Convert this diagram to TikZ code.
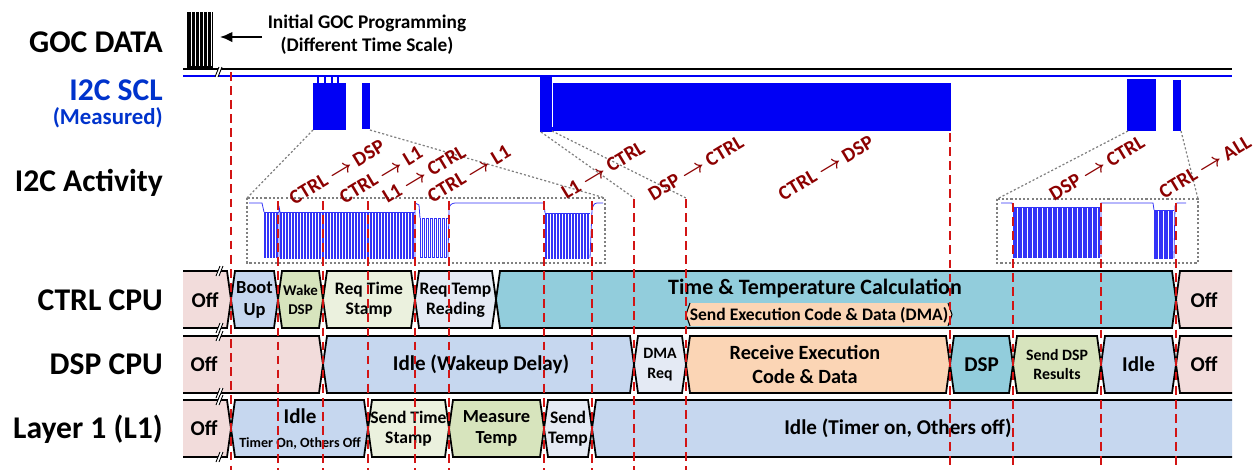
\documentclass[tikz,border=0pt]{standalone}
\usepackage{fontspec}
\setmainfont{Carlito}
\usepackage{tikz}
\usetikzlibrary{arrows.meta}

\definecolor{offpink}{RGB}{242,220,219}
\definecolor{idleblue}{RGB}{198,215,239}
\definecolor{wakegreen}{RGB}{215,228,189}
\definecolor{stampgreen}{RGB}{235,241,222}
\definecolor{reqgray}{RGB}{228,234,244}
\definecolor{calcteal}{RGB}{146,205,220}
\definecolor{codepeach}{RGB}{251,213,181}
\definecolor{msgred}{RGB}{140,0,0}
\definecolor{syncred}{RGB}{210,20,20}
\definecolor{sclblue}{RGB}{0,0,245}
\definecolor{labelblue}{RGB}{0,51,204}

\newcommand{\sendto}{{\boldmath$\rightarrow$}}
% axis break "//" at (x,y)
\newcommand{\axisbreak}[2]{%
  \fill[white] (#1-4,#2+5) -- (#1,#2-5) -- (#1+3,#2-5) -- (#1-1,#2+5) -- cycle;
  \draw[line width=0.5pt] (#1-4,#2+5) -- (#1,#2-5) (#1-1,#2+5) -- (#1+3,#2-5);}
% square wave: first x, second x, last x, high y, low y
\newcommand{\sqwave}[5]{%
  \draw[zoomtrace] (#1,#4) foreach \x in {#1,#2,...,#3}
    { -- (\x,#5) -- ({\x+(#2-#1)/2},#5) -- ({\x+(#2-#1)/2},#4) -- ({\x+#2-#1},#4) };}

\begin{document}
\begin{tikzpicture}[x=0.02cm, y=-0.02cm, font=\bfseries]
        % Setup the styles
        \tikzset{rowtitle/.style={anchor=east,
                                  font=\fontsize{18}{21}\selectfont\bfseries}}
        \tikzset{statebox/.style={draw=black, line width=1pt}}
        \tikzset{statetext/.style={align=center,
                                   font=\fontsize{10}{11.5}\selectfont\bfseries}}
        \tikzset{bigtext/.style={align=center,
                                 font=\fontsize{12}{13.5}\selectfont\bfseries}}
        \tikzset{msglabel/.style={text=msgred, rotate=31, inner sep=0pt,
                                  font=\fontsize{11.5}{13}\selectfont\bfseries}}
        \tikzset{syncline/.style={draw=syncred, line width=1.1pt,
                                  dash pattern=on 5pt off 3pt}}
        \tikzset{zoomline/.style={draw=gray, line width=0.7pt,
                                  dash pattern=on 1.2pt off 1.2pt}}
        \tikzset{zoomtrace/.style={draw=sclblue!80!white, line width=0.45pt}}

        \useasboundingbox (0,0) rectangle (1258,471);

        % Row titles
        \node[rowtitle] at (169,42) (gocdata) {GOC DATA};
        \node[rowtitle, text=labelblue] at (169,90) (i2cscl) {I2C SCL};
        \node[rowtitle, text=labelblue, font=\fontsize{13}{15}\selectfont\bfseries]
              at (169,118) (measured) {(Measured)};
        \node[rowtitle] at (169,183) (i2cact) {I2C Activity};
        \node[rowtitle] at (169,300) (ctrlcpu) {CTRL CPU};
        \node[rowtitle] at (169,364) (dspcpu) {DSP CPU};
        \node[rowtitle] at (169,429) (layerone) {Layer 1 (L1)};

        % GOC data burst and traces
        \fill[black] (187,12) rectangle (213,69);
        \foreach \x in {191,195,199,203,207,211}
              \draw[white, line width=0.35pt] (\x,12) -- (\x,66);
        \draw[line width=1.1pt] (183,69) -- (1232,69);
        \draw[sclblue, line width=0.8pt] (183,76) -- (1232,76);
        \fill[sclblue] (313,83) rectangle (346,130);
        \foreach \x in {318,325,332,338}
              \draw[sclblue, line width=1.2pt] (\x,76) -- (\x,84);
        \fill[sclblue] (362,83) rectangle (370,129);
        \fill[sclblue] (540,76) rectangle (552,132);
        \fill[sclblue] (552,83) rectangle (951,131);
        \draw[white, line width=0.4pt] (552,80) -- (552,127);
        \fill[sclblue] (1127,79) rectangle (1156,131);
        \fill[sclblue] (1173,80) rectangle (1181,131);
        \axisbreak{219}{72}

        % Annotation of the GOC burst
        \node[align=center, font=\fontsize{11}{13}\selectfont\bfseries, inner sep=3pt]
              at (367,35) (initprog) {Initial GOC Programming\\(Different Time Scale)};
        \coordinate (gocburst) at (220,37);
        \draw[line width=1.1pt, -{Latex[length=7pt, width=6pt]}]
              (initprog.west |- gocburst) -- (gocburst);

        % Zoom frames
        \coordinate (burstAl) at (313,130);
        \coordinate (burstAr) at (370,130);
        \coordinate (zoomLnw) at (247,198);
        \coordinate (zoomLne) at (605,198);
        \coordinate (zoomLse) at (605,263);
        \coordinate (burstBl) at (541,132);
        \coordinate (burstBr) at (552,131);
        \coordinate (dmatop) at (634,198);
        \coordinate (codetop) at (686,198);
        \coordinate (burstCl) at (1128,131);
        \coordinate (burstCr) at (1181,131);
        \coordinate (zoomRnw) at (997,199);
        \coordinate (zoomRne) at (1198,199);
        \coordinate (zoomRse) at (1198,263);
        \draw[zoomline] (burstAl) -- (zoomLnw);
        \draw[zoomline] (burstAr) -- (zoomLne);
        \draw[zoomline] (zoomLnw) rectangle (zoomLse);
        \draw[zoomline] (burstBl) -- (dmatop);
        \draw[zoomline] (burstBr) -- (codetop);
        \draw[zoomline] (burstCl) -- (zoomRnw);
        \draw[zoomline] (burstCr) -- (zoomRne);
        \draw[zoomline] (zoomRnw) rectangle (zoomRse);

        % Zoomed waveforms
        \draw[zoomtrace] (249,203) -- (262,203) -- (264,212);
        \sqwave{264}{267}{276}{212}{257}
        \draw[zoomtrace] (279,257) -- (279,206) -- (280,212);
        \sqwave{280}{283}{412}{212}{258}
        \draw[zoomtrace] (415,258) -- (415,203) -- (419,205) -- (420,218);
        \sqwave{420}{424}{444}{218}{257}
        \draw[zoomtrace] (448,257) -- (449,209) to[out=90, in=180] (455,203)
              -- (544,203) -- (545,213);
        \sqwave{545}{548}{587}{213}{258}
        \draw[zoomtrace] (590,258) -- (592,210) to[out=80, in=180] (597,203) -- (603,203);
        \draw[zoomtrace] (1001,203) -- (1012,203) -- (1013,207);
        \sqwave{1013}{1015.5}{1098.5}{207}{257}
        \draw[zoomtrace] (1101,257) -- (1101,203) -- (1153,203) -- (1154,210);
        \sqwave{1154}{1156.5}{1171.5}{210}{258}
        \draw[zoomtrace] (1174,258) -- (1175,206) -- (1177,203) -- (1186,203);

        % I2C activity labels
        \node[msglabel] at (337,172) (msgA) {CTRL \sendto{} DSP};
        \node[msglabel] at (381,175) (msgB) {CTRL \sendto{} L1};
        \node[msglabel] at (424,174) (msgC) {L1 \sendto{} CTRL};
        \node[msglabel] at (469,174) (msgD) {CTRL \sendto{} L1};
        \node[msglabel] at (603,170) (msgE) {L1 \sendto{} CTRL};
        \node[msglabel] at (696,168) (msgF) {DSP \sendto{} CTRL};
        \node[msglabel] at (826,168) (msgG) {CTRL \sendto{} DSP};
        \node[msglabel] at (1097,168) (msgH) {DSP \sendto{} CTRL};
        \node[msglabel] at (1205,167) (msgI) {CTRL \sendto{} ALL};

        % CTRL CPU row
        \fill[offpink] (183,271) -- (227,271) -- (231,299.5) -- (227,328) -- (183,328) -- cycle;
        \draw[statebox] (183,271) -- (227,271) -- (231,299.5) -- (227,328) -- (183,328);
        \foreach \xa/\xb/\col in {231/278/idleblue, 278/323/wakegreen, 323/415/stampgreen,
                                  415/496/reqgray, 496/1176/calcteal}
              \filldraw[statebox, fill=\col] (\xa,299.5) -- (\xa+4,271) -- (\xb-4,271)
                    -- (\xb,299.5) -- (\xb-4,328) -- (\xa+4,328) -- cycle;
        \fill[offpink] (1232,271) -- (1180,271) -- (1176,299.5) -- (1180,328) -- (1232,328) -- cycle;
        \draw[statebox] (1232,271) -- (1180,271) -- (1176,299.5) -- (1180,328) -- (1232,328);
        \fill[codepeach] (686,314.5) -- (690,303) -- (948,303) -- (952,314.5)
              -- (948,326) -- (690,326) -- cycle;
        \draw[line width=0.6pt] (690,303) -- (686,314.5) -- (690,326)
              (948,303) -- (952,314.5) -- (948,326);

        % DSP CPU row
        \fill[offpink] (183,336) -- (319,336) -- (323,364.5) -- (319,393) -- (183,393) -- cycle;
        \draw[statebox] (183,336) -- (319,336) -- (323,364.5) -- (319,393) -- (183,393);
        \foreach \xa/\xb/\col in {323/634/idleblue, 634/686/reqgray, 686/950/codepeach,
                                  950/1013/calcteal, 1013/1101/wakegreen, 1101/1176/idleblue}
              \filldraw[statebox, fill=\col] (\xa,364.5) -- (\xa+4,336) -- (\xb-4,336)
                    -- (\xb,364.5) -- (\xb-4,393) -- (\xa+4,393) -- cycle;
        \fill[offpink] (1232,336) -- (1180,336) -- (1176,364.5) -- (1180,393) -- (1232,393) -- cycle;
        \draw[statebox] (1232,336) -- (1180,336) -- (1176,364.5) -- (1180,393) -- (1232,393);

        % Layer 1 row
        \fill[offpink] (183,400) -- (227,400) -- (231,428.5) -- (227,457) -- (183,457) -- cycle;
        \draw[statebox] (183,400) -- (227,400) -- (231,428.5) -- (227,457) -- (183,457);
        \foreach \xa/\xb/\col in {231/368/idleblue, 368/449/stampgreen, 449/544/wakegreen,
                                  544/592/reqgray}
              \filldraw[statebox, fill=\col] (\xa,428.5) -- (\xa+4,400) -- (\xb-4,400)
                    -- (\xb,428.5) -- (\xb-4,457) -- (\xa+4,457) -- cycle;
        \fill[idleblue] (1232,400) -- (596,400) -- (592,428.5) -- (596,457) -- (1232,457) -- cycle;
        \draw[statebox] (1232,400) -- (596,400) -- (592,428.5) -- (596,457) -- (1232,457);

        % Breaks on the rows
        \foreach \y in {271,328,336,393,400,457}
              {\axisbreak{220}{\y}}

        % State texts
        \node[bigtext] at (205,300) (ctrloffa) {Off};
        \node[statetext, font=\fontsize{10.5}{12}\selectfont\bfseries]
              at (254.5,300) (ctrlboot) {Boot\\Up};
        \node[statetext, font=\fontsize{8.5}{11}\selectfont\bfseries]
              at (300.5,300) (ctrlwake) {Wake\\DSP};
        \node[statetext] at (369,300) (ctrlreqtime) {Req Time\\Stamp};
        \node[statetext] at (455.5,300) (ctrlreqtemp) {Req Temp\\Reading};
        \node[bigtext, font=\fontsize{12.5}{14}\selectfont\bfseries]
              at (815,288) (ctrlcalc) {Time \& Temperature Calculation};
        \node[statetext] at (819,315) (ctrlsend) {Send Execution Code \& Data (DMA)};
        \node[bigtext] at (1204,300) (ctrloffb) {Off};

        \node[bigtext] at (204,364.5) (dspoffa) {Off};
        \node[bigtext] at (481,364.5) (dspwait) {Idle (Wakeup Delay)};
        \node[statetext, font=\fontsize{9}{11}\selectfont\bfseries]
              at (660,364.5) (dspdma) {DMA\\Req};
        \node[bigtext, font=\fontsize{11.5}{14}\selectfont\bfseries]
              at (805,364.5) (dsprecv) {Receive Execution\\Code \& Data};
        \node[bigtext] at (981.5,364.5) (dsprun) {DSP};
        \node[statetext, font=\fontsize{9}{11}\selectfont\bfseries]
              at (1057,364.5) (dspsend) {Send DSP\\Results};
        \node[bigtext] at (1138.5,364.5) (dspidle) {Idle};
        \node[bigtext] at (1204,364.5) (dspoffb) {Off};

        \node[bigtext] at (204,428.5) (lonoff) {Off};
        \node[bigtext, font=\fontsize{12}{14}\selectfont\bfseries] at (300,429) (lonidle)
              {Idle\\{\fontsize{8}{9}\selectfont Timer On, Others Off}};
        \node[statetext] at (408.5,428.5) (lonstamp) {Send Time\\Stamp};
        \node[statetext, font=\fontsize{10.5}{12}\selectfont\bfseries]
              at (496.5,428.5) (lonmeasure) {Measure\\Temp};
        \node[statetext] at (568,428.5) (lontemp) {Send\\Temp};
        \node[bigtext] at (898,428.5) (lonrest) {Idle (Timer on, Others off)};

        % Synchronisation lines
        \foreach \x/\ya in {231/72, 278/201, 323/201, 368/201, 415/201, 449/201,
                            544/201, 592/201, 634/199, 686/199, 950/133,
                            1013/203, 1101/203, 1176/203}
              \draw[syncline] (\x,\ya) -- (\x,470);
\end{tikzpicture}
\end{document}
